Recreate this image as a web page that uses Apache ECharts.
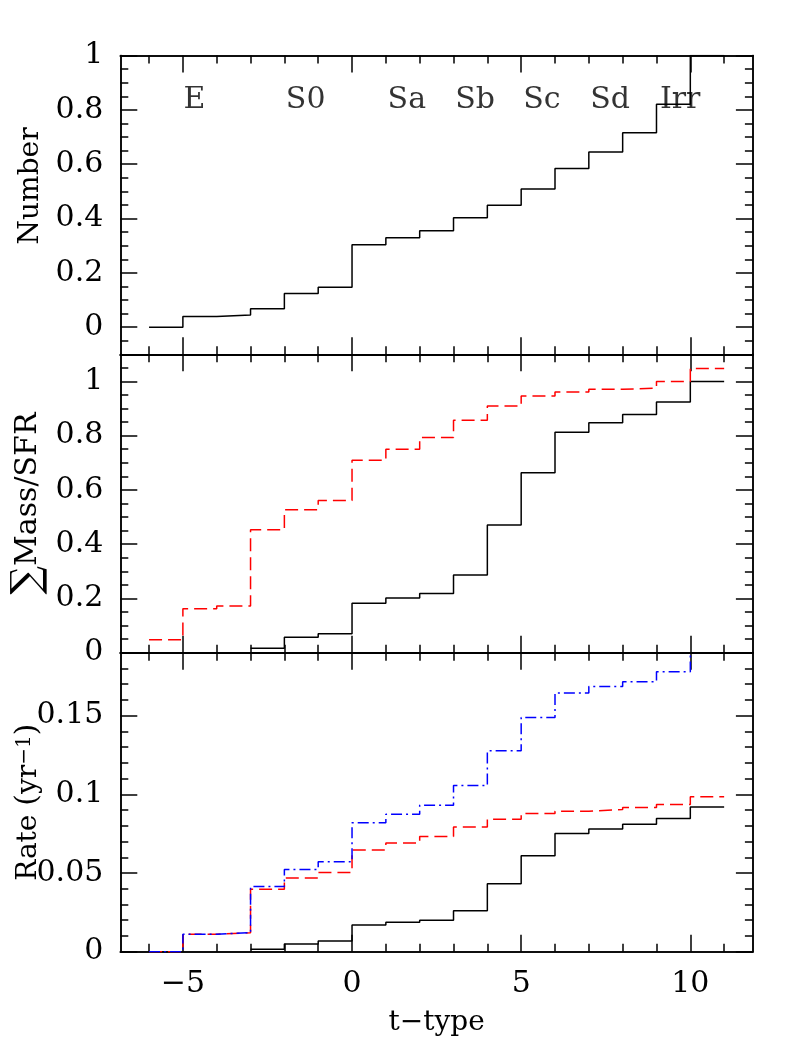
<!DOCTYPE html>
<html>
<head>
<meta charset="utf-8">
<script src="https://cdn.jsdelivr.net/npm/echarts@6/dist/echarts.min.js"></script>
<style>
html,body{margin:0;padding:0;background:#fff;}
#chart{width:795px;height:1059px;}
</style>
</head>
<body>
<div id="chart"></div>
<script>
// ---- data ----
const binEdges = [-6,-5,-4,-3,-2,-1,0,1,2,3,4,5,6,7,8,9,10,11];
// cumulative number fraction per t-type bin [t, t+1]
const numberCum = [0, 0.039, 0.045, 0.068, 0.124, 0.147, 0.303, 0.329, 0.355, 0.403, 0.449, 0.509, 0.584, 0.645, 0.716, 0.821, 1.0];
// cumulative mass (black solid) and SFR (red dashed)
const massCum = [null, null, null, 0.016, 0.057, 0.070, 0.182, 0.202, 0.218, 0.286, 0.471, 0.663, 0.813, 0.848, 0.878, 0.924, 1.0];
const sfrCum  = [0.048, 0.162, 0.172, 0.453, 0.527, 0.561, 0.709, 0.750, 0.793, 0.857, 0.909, 0.946, 0.961, 0.971, 0.975, 1.0, 1.048];
// cumulative rates (yr^-1)
const rateBlack = [null, null, null, 0.0015, 0.0049, 0.0068, 0.0170, 0.0187, 0.0200, 0.0261, 0.0431, 0.0609, 0.0751, 0.0779, 0.0810, 0.0846, 0.0919];
const rateRed   = [0, 0.0111, 0.0121, 0.0397, 0.0469, 0.0503, 0.0647, 0.0690, 0.0732, 0.0793, 0.0842, 0.0878, 0.0893, 0.0903, 0.0916, 0.0935, 0.0984];
const rateBlue  = [0, 0.0111, 0.0121, 0.0414, 0.0522, 0.0571, 0.0819, 0.0874, 0.0931, 0.1056, 0.1277, 0.1489, 0.1644, 0.1686, 0.1716, 0.1779, 0.2];
// morphological type labels
const typeNames = ['E', 'S0', 'Sa', 'Sb', 'Sc', 'Sd', 'Irr'];
const typeX = [-4.66, -1.37, 1.62, 3.64, 5.61, 7.63, 9.7];
const typeY = 0.837;
// ticks
const xMajor = [-5, 0, 5, 10];
const xMinor = [-6,-5,-4,-3,-2,-1,0,1,2,3,4,5,6,7,8,9,10,11];
const y1Major = [0, 0.2, 0.4, 0.6, 0.8, 1];
const y2Major = [0, 0.2, 0.4, 0.6, 0.8, 1];
const y3Major = [0, 0.05, 0.1, 0.15];
const xRange = [-6.85, 11.85];
const y1Range = [-0.1, 1.0];
const y2Range = [0, 1.1];
const y3Range = [0, 0.19];

function steps(from, to, st) {
  const out = [];
  const n = Math.round((to - from) / st);
  for (let i = 0; i <= n; i++) out.push(+(from + i * st).toFixed(4));
  return out;
}
const y1Minor = steps(-0.1, 1.0, 0.05);
const y2Minor = steps(0, 1.1, 0.05);
const y3Minor = steps(0, 0.19, 0.01);

function stepData(vals) {
  const d = [];
  binEdges.forEach((x, i) => {
    const v = vals[Math.min(i, vals.length - 1)];
    if (v !== null) d.push([x, v]);
  });
  return d;
}

const FONT = '"DejaVu Serif", "Liberation Serif", serif';
const LW = 1.5;
const grids = [
  {left: 120.3, top: 55.6, width: 632.6, height: 298.7, outerBoundsMode: 'none', containLabel: false},
  {left: 120.3, top: 354.3, width: 632.6, height: 298.4, outerBoundsMode: 'none', containLabel: false},
  {left: 120.3, top: 652.7, width: 632.6, height: 299, outerBoundsMode: 'none', containLabel: false}
];

const xAxes = [], yAxes = [];
function axLine(){ return {show: true, onZero: false, lineStyle: {color: '#000', width: LW}}; }
function xAx(gi, pos, ticks, len, labels, name) {
  xAxes.push({
    type: 'value', gridIndex: gi, position: pos, min: xRange[0], max: xRange[1],
    axisLine: axLine(),
    axisTick: {show: true, inside: true, length: len, customValues: ticks, lineStyle: {color: '#000', width: LW}},
    axisLabel: labels ? {show: true, customValues: xMajor, margin: 18, fontFamily: FONT, fontSize: 30, color: '#000',
      formatter: v => String(v).replace('-', '\u2212')} : {show: false},
    splitLine: {show: false},
    name: name || '', nameLocation: 'middle', nameGap: 57, nameMoveOverlap: false,
    nameTextStyle: {fontFamily: FONT, fontSize: 28, color: '#000'}
  });
  return xAxes.length - 1;
}
const richName = {
  sup: {fontFamily: FONT, fontSize: 20, color: '#000', verticalAlign: 'top', lineHeight: 28},
  p: {fontFamily: FONT, fontSize: 30, color: '#000', lineHeight: 28},
  big: {fontFamily: FONT, fontSize: 40, color: '#000', lineHeight: 28},
  n: {fontFamily: FONT, fontSize: 30, color: '#000', lineHeight: 28}
};
function yAx(gi, pos, range, ticks, len, labels, name, namePad, nameGap) {
  yAxes.push({
    type: 'value', gridIndex: gi, position: pos, min: range[0], max: range[1],
    axisLine: axLine(),
    axisTick: {show: true, inside: true, length: len, customValues: ticks, lineStyle: {color: '#000', width: LW}},
    axisLabel: labels ? {show: true, customValues: labels, margin: 17, fontFamily: FONT, fontSize: 30, color: '#000'} : {show: false},
    splitLine: {show: false},
    name: name || '', nameLocation: 'middle', nameGap: nameGap || 76, nameRotate: 90, nameMoveOverlap: false,
    nameTextStyle: {fontFamily: FONT, fontSize: 28, lineHeight: 28, color: '#000', padding: namePad || 0, rich: richName}
  });
  return yAxes.length - 1;
}

const yRanges = [y1Range, y2Range, y3Range];
const yMajors = [y1Major, y2Major, y3Major];
const yMinors = [y1Minor, y2Minor, y3Minor];
const yNames = ['Number', '{big|\u2211}{n|Mass/SFR}', 'Rate {p|(}yr{sup|\u22121}{p|)}'];
const yPads = [[0, 0, 0, 38], 0, 0];
const yGaps = [76, 78, 78];
const mainX = [], mainY = [];
for (let g = 0; g < 3; g++) {
  const isBottom = g === 2;
  mainX.push(xAx(g, 'bottom', xMajor, 17, isBottom, isBottom ? 't\u2212type' : ''));
  xAx(g, 'bottom', xMinor, 8, false);
  xAx(g, 'top', xMajor, 17, false);
  xAx(g, 'top', xMinor, 8, false);
  mainY.push(yAx(g, 'left', yRanges[g], yMajors[g], 17, yMajors[g], yNames[g], yPads[g], yGaps[g]));
  yAx(g, 'left', yRanges[g], yMinors[g], 8, null);
  yAx(g, 'right', yRanges[g], yMajors[g], 17, null);
  yAx(g, 'right', yRanges[g], yMinors[g], 8, null);
}

function stepSeries(g, vals, color, dash) {
  return {
    type: 'line', xAxisIndex: mainX[g], yAxisIndex: mainY[g], step: 'end',
    data: stepData(vals), symbol: 'none', clip: true,
    lineStyle: {color: color, width: LW, type: dash || 'solid'}
  };
}

const series = [
  stepSeries(0, numberCum, '#000'),
  stepSeries(1, massCum, '#000'),
  stepSeries(1, sfrCum, '#ff0000', [13, 6]),
  stepSeries(2, rateBlack, '#000'),
  stepSeries(2, rateRed, '#ff0000', [13, 6]),
  stepSeries(2, rateBlue, '#0000ff', [11, 4, 2, 4]),
  {
    type: 'scatter', xAxisIndex: mainX[0], yAxisIndex: mainY[0], symbolSize: 0,
    itemStyle: {color: '#000'},
    data: typeX.map((x, i) => ({value: [x, typeY], name: typeNames[i]})),
    label: {show: true, position: 'inside', formatter: p => p.name, fontFamily: FONT, fontSize: 30,
      color: '#000', textBorderWidth: 0, textBorderColor: 'transparent'}
  }
];

const chart = echarts.init(document.getElementById('chart'), null, {renderer: 'canvas'});
chart.setOption({
  animation: false,
  backgroundColor: '#fff',
  grid: grids,
  xAxis: xAxes,
  yAxis: yAxes,
  series: series
});
</script>
</body>
</html>
